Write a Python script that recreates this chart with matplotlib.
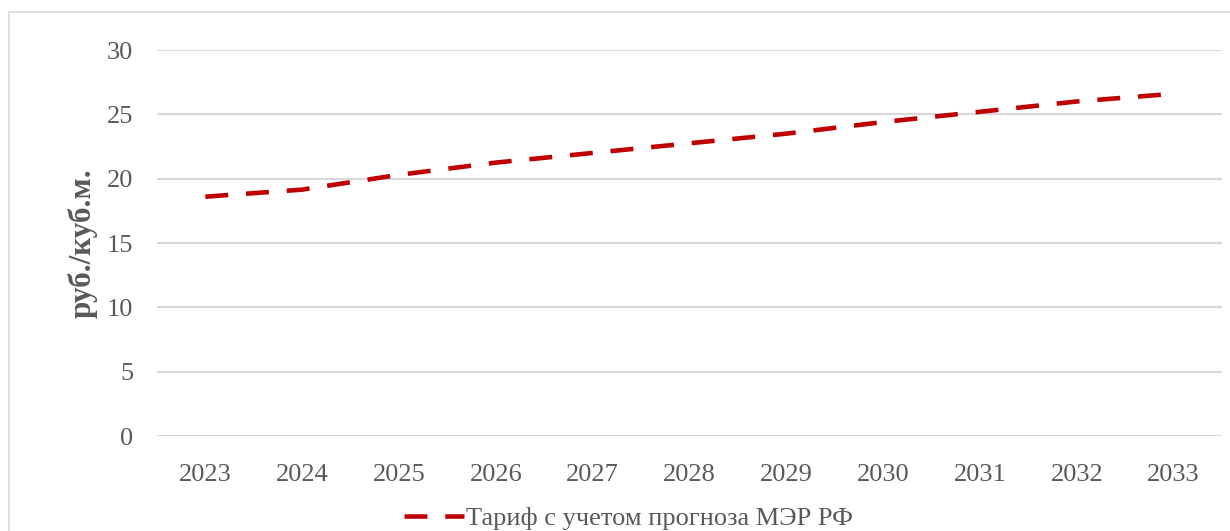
import matplotlib
matplotlib.use('Agg')
import matplotlib.pyplot as plt
from matplotlib.patches import Rectangle

years = ['2023', '2024', '2025', '2026', '2027', '2028', '2029', '2030', '2031', '2032', '2033']
tariff = [18.6, 19.15, 20.3, 21.25, 22.0, 22.75, 23.5, 24.4, 25.2, 26.0, 26.6]
series_name = 'Тариф с учетом прогноза МЭР РФ'
y_label = 'руб./куб.м.'

plt.rcParams['font.family'] = ['Liberation Serif', 'DejaVu Serif']
grey = '#595959'

fig = plt.figure(figsize=(12.3, 5.31), dpi=100)
ax = fig.add_axes([0.1276, 0.1789, 0.8659, 0.7269])

x = range(len(years))
ax.plot(x, tariff, color='#C00000', linewidth=3.3, dashes=(5, 3.9),
        solid_capstyle='butt', dash_capstyle='butt', label=series_name)

ax.set_xlim(-0.5, len(years) - 0.5)
ax.set_ylim(0, 30)
ax.set_yticks(range(0, 31, 5))
ax.set_xticks(list(x))
ax.set_xticklabels(years)
ax.tick_params(axis='both', length=0, labelsize=19, labelcolor=grey)
ax.tick_params(axis='x', pad=20)
ax.tick_params(axis='y', pad=17)
ax.grid(axis='y', color='#d9d9d9', linewidth=1.5)
ax.set_axisbelow(True)
for s in ax.spines.values():
    s.set_visible(False)

ax.set_ylabel(y_label, fontsize=22.5, fontweight='bold', color=grey, labelpad=7)

fig.legend(loc='center', bbox_to_anchor=(0.511, 1 - 518 / 531), frameon=False,
           fontsize=19, labelcolor=grey, handlelength=2.25, handletextpad=0.08,
           borderpad=0)

# рамка вокруг всей диаграммы
fig.patches.append(Rectangle((9 / 1230, -0.1), 1.2, 1 - 12 / 531 + 0.1,
                             transform=fig.transFigure, fill=False,
                             edgecolor='#d9d9d9', linewidth=1.2))

fig.savefig('out.png', dpi=100)
